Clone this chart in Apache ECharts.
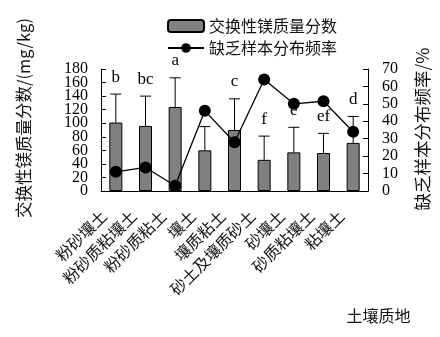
<!DOCTYPE html>
<html>
<head>
<meta charset="utf-8">
<script src="https://cdn.jsdelivr.net/npm/echarts@6/dist/echarts.min.js"></script>
<style>
html,body{margin:0;padding:0;background:#fff;}
#chart{width:440px;height:337px;}
</style>
</head>
<body>
<div id="chart"></div>
<script>
var categories = ['粉砂壤土','粉砂质粘壤土','粉砂质粘土','壤土','壤质粘土','砂土及壤质砂土','砂壤土','砂质粘壤土','粘壤土'];
var mgValues = [101, 96, 124, 60, 90, 46, 57, 56, 71];
var mgErrTop = [143, 140, 167, 95, 136, 81, 94, 85, 110];
var sigLetters = ['b', 'bc', 'a', '', 'c', 'f', 'e', 'ef', 'd'];
var freqValues = [11, 13.5, 3, 46, 28, 64, 50, 51.5, 34];
var leftTicks = {min: 0, max: 180, interval: 20};
var rightTicks = {min: 0, max: 70, interval: 10};
var serif = '"Liberation Serif", "Times New Roman", "Noto Sans CJK SC", serif';
var cjk = '"Noto Sans CJK SC", sans-serif';

var errData = mgValues.map(function (v, i) { return [i, v, mgErrTop[i], sigLetters[i]]; });

// left tick labels are split over two overlaid axes so that tightly packed labels all show
function leftLabel(parity) {
  return function (v) { return (Math.round(v / leftTicks.interval) % 2 === parity) ? String(v) : ''; };
}

var chart = echarts.init(document.getElementById('chart'), null, {renderer: 'canvas'});
chart.setOption({
  animation: false,
  backgroundColor: '#fff',
  grid: {left: 101, right: 72, top: 69, bottom: 146},
  legend: [
    {data: ['交换性镁质量分数'], left: 162, top: 13, itemWidth: 36, itemHeight: 12, itemGap: 6,
     textStyle: {fontFamily: cjk, fontSize: 16, color: '#111'}},
    {data: ['缺乏样本分布频率'], left: 162, top: 35, itemWidth: 36, itemHeight: 12, itemGap: 6,
     textStyle: {fontFamily: cjk, fontSize: 16, color: '#111'}}
  ],
  xAxis: {
    type: 'category', data: categories, boundaryGap: true,
    axisLine: {lineStyle: {color: '#000', width: 1}},
    axisTick: {inside: true, length: 6, lineStyle: {color: '#000'}},
    axisLabel: {interval: 0, rotate: 45, margin: 10, fontFamily: cjk, fontSize: 16, color: '#111', padding: [0, 17, 0, 0]},
    name: '土壤质地', nameLocation: 'middle', nameGap: 117,
    nameTextStyle: {fontFamily: cjk, fontSize: 16, color: '#111', padding: [0, 0, 0, 288]}
  },
  yAxis: [
    {type: 'value', min: leftTicks.min, max: leftTicks.max, interval: leftTicks.interval,
     position: 'left',
     splitLine: {show: false},
     axisLine: {show: true, lineStyle: {color: '#000'}},
     axisTick: {show: true, inside: true, length: 5, lineStyle: {color: '#000'}},
     axisLabel: {margin: 13, fontFamily: serif, fontSize: 16, color: '#000', formatter: leftLabel(0)},
     name: '交换性镁质量分数/(mg/kg)', nameLocation: 'middle', nameGap: 69, nameRotate: 90,
     nameTextStyle: {fontFamily: cjk, fontSize: 16.5, color: '#111', padding: [0, 0, 0, 24]}},
    {type: 'value', min: rightTicks.min, max: rightTicks.max, interval: rightTicks.interval,
     position: 'right',
     splitLine: {show: false},
     axisLine: {show: true, lineStyle: {color: '#000'}},
     axisTick: {show: true, inside: true, length: 5, lineStyle: {color: '#000'}},
     axisLabel: {margin: 14, fontFamily: serif, fontSize: 16, color: '#000', showMinLabel: true, showMaxLabel: true},
     name: '缺乏样本分布频率/%', nameLocation: 'middle', nameGap: 46, nameRotate: 90,
     nameTextStyle: {fontFamily: cjk, fontSize: 17.5, color: '#111', padding: [0, 0, 0, 2]}},
    {type: 'value', min: leftTicks.min, max: leftTicks.max, interval: leftTicks.interval,
     position: 'left', offset: 0,
     splitLine: {show: false},
     axisLine: {show: false},
     axisTick: {show: false},
     axisLabel: {margin: 13, fontFamily: serif, fontSize: 16, color: '#000', formatter: leftLabel(1)}}
  ],
  series: [
    {name: '交换性镁质量分数', type: 'bar', yAxisIndex: 0, data: mgValues, barWidth: 13,
     itemStyle: {color: '#808080', borderColor: '#000', borderWidth: 1}, z: 2},
    {name: 'err', type: 'custom', yAxisIndex: 0, data: errData, z: 3,
     renderItem: function (params, api) {
       var x = api.value(0);
       var base = api.coord([x, api.value(1)]);
       var top = api.coord([x, api.value(2)]);
       var cap = 5.5;
       return {type: 'group', children: [
         {type: 'line', shape: {x1: base[0], y1: base[1], x2: top[0], y2: top[1]}, style: {stroke: '#000', lineWidth: 1}},
         {type: 'line', shape: {x1: top[0] - cap, y1: top[1], x2: top[0] + cap, y2: top[1]}, style: {stroke: '#000', lineWidth: 1}},
         {type: 'text', x: top[0], y: top[1] - 17, style: {text: api.value(3), fontFamily: serif, fontSize: 17, fill: '#000', align: 'center', verticalAlign: 'middle'}}
       ]};
     }},
    {name: '缺乏样本分布频率', type: 'line', yAxisIndex: 1, data: freqValues,
     symbol: 'circle', symbolSize: 12,
     lineStyle: {color: '#000', width: 1.3}, itemStyle: {color: '#000'}, z: 5}
  ]
});
</script>
</body>
</html>
